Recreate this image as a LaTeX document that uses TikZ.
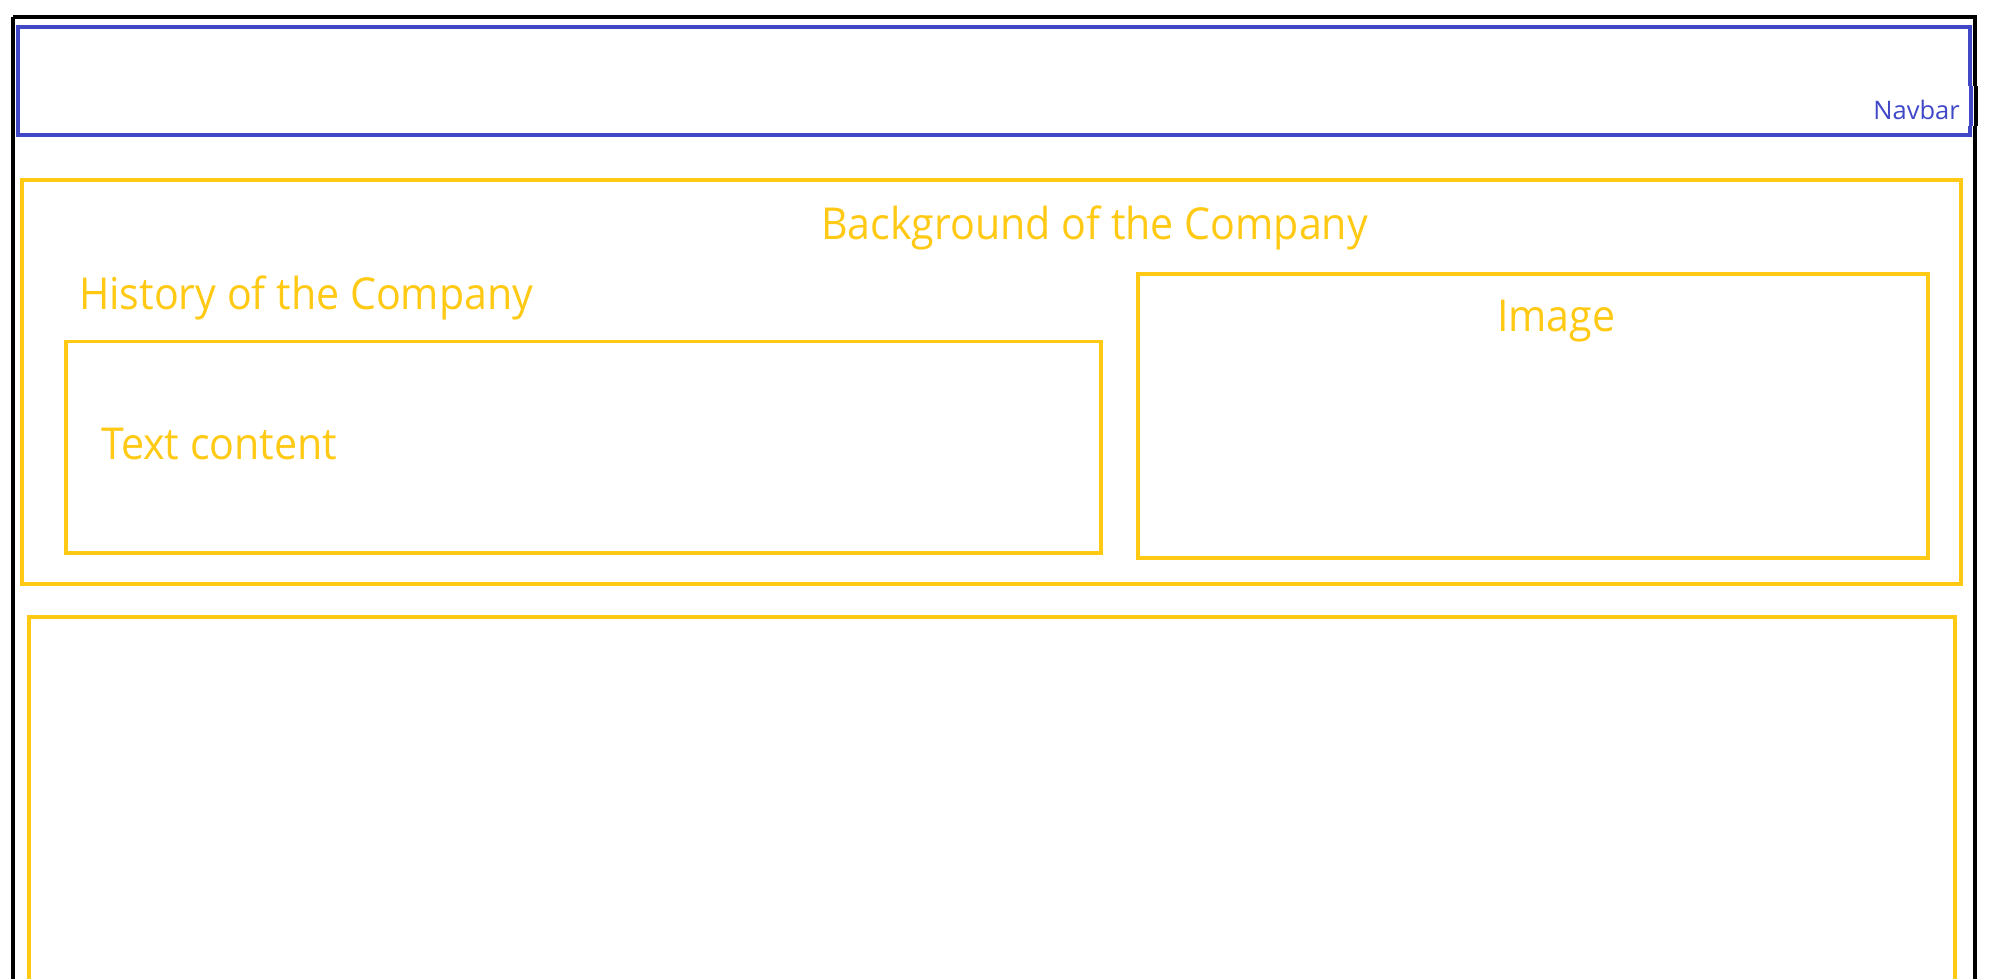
\documentclass[tikz,border=0pt]{standalone}
\usepackage{fontspec}
\setmainfont{Open Sans}[FakeStretch=0.935]
\newfontfamily\navfont{Open Sans}
\definecolor{navblue}{RGB}{64,72,200}
\definecolor{secyellow}{RGB}{255,201,20}
\tikzset{
  frame/.style={draw=black, line width=4pt},
  navbox/.style={draw=navblue, line width=4pt},
  secbox/.style={draw=secyellow, line width=3.8pt},
  bigtext/.style={text=secyellow, font=\fontsize{44}{50}\selectfont, inner sep=0pt, anchor=base west},
  navtext/.style={text=navblue, font=\navfont\fontsize{25.5}{30}\selectfont, inner sep=0pt, anchor=base east},
}
\begin{document}
\begin{tikzpicture}[x=1pt, y=-1pt]
\useasboundingbox (0,0) rectangle (1990,978);
\clip (0,0) rectangle (1990,978);
\fill[white] (0,0) rectangle (1990,978);
% page frame
\draw[frame] (13,17) -- (1975,17) -- (1975,1010) (13,17) -- (13,1010);
% navbar
\draw[navbox] (18,27) rectangle (1970,135);
\fill[white] (1968,86) rectangle (1979,126);
\fill[navblue] (1969,86) rectangle (1972.7,126);
\fill[black] (1973.5,86) rectangle (1978.3,126);
\node[navtext] (navlabel) at (1960,119) {Navbar};
% background section
\draw[secbox] (22,180) rectangle (1961,584);
\node[bigtext] (bgtitle) at (821,239) {Background of the Company};
\node[bigtext] (histtitle) at (79,309) {History of the Company};
\draw[secbox] (66,341.5) rectangle (1101,553);
\node[bigtext] (textcontent) at (101,459) {Text content};
\draw[secbox] (1138,274) rectangle (1928,558);
\node[bigtext] (imagelabel) at (1497,331) {Image};
% lower section
\draw[secbox] (29,617) rectangle (1955,1010);
\end{tikzpicture}
\end{document}
